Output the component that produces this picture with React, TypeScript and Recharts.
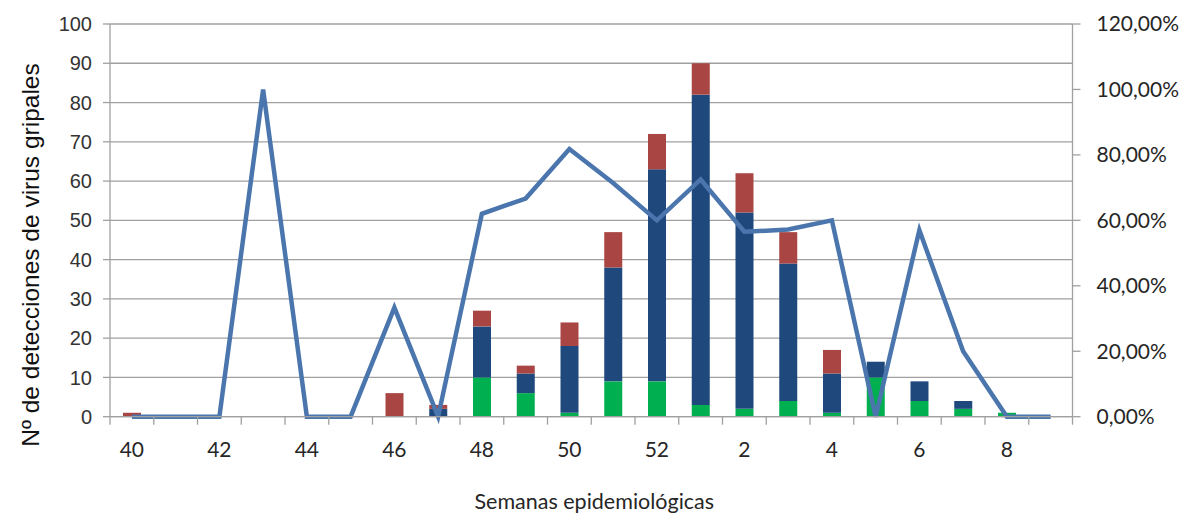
import React from "react";
import { ComposedChart, Bar, Line, XAxis, YAxis, CartesianGrid } from "recharts";

// Semanas epidemiológicas (temporada 40 -> 9)
const semanas = ["40", "41", "42", "43", "44", "45", "46", "47", "48", "49", "50", "51", "52", "1", "2", "3", "4", "5", "6", "7", "8", "9"];

// Detecciones por grupo (apiladas: verde abajo, azul en medio, rojo arriba)
const verde = [0, 0, 0, 0, 0, 0, 0, 0, 10, 6, 1, 9, 9, 3, 2, 4, 1, 10, 4, 2, 1, 0];
const azul = [0, 0, 0, 0, 0, 0, 0, 2, 13, 5, 17, 29, 54, 79, 50, 35, 10, 4, 5, 2, 0, 0];
const rojo = [1, 0, 0, 0, 0, 0, 6, 1, 4, 2, 6, 9, 9, 8, 10, 8, 6, 0, 0, 0, 0, 0];

// Porcentaje de positividad (eje derecho)
const porcentaje = [0, 0, 0, 1.0, 0, 0, 0.3333, 0, 0.62, 0.6667, 0.818, 0.714, 0.6, 0.725, 0.565, 0.572, 0.6, 0, 0.57, 0.2, 0, 0];

const ticksIzq = [0, 10, 20, 30, 40, 50, 60, 70, 80, 90, 100];
const ticksDer = [0, 0.2, 0.4, 0.6, 0.8, 1.0, 1.2];

const data = semanas.map((semana, i) => ({
  semana,
  verde: verde[i],
  azul: azul[i],
  rojo: rojo[i],
  porcentaje: porcentaje[i],
}));

const GRIS = "#A0A0A0";
const ANCHO_BANDA = (1072.5 - 110) / semanas.length;

const SemanaTick = (props: any) => {
  const { x, y, index, payload } = props;
  const ultimo = index === semanas.length - 1;
  return (
    <g>
      <line x1={x - ANCHO_BANDA / 2} x2={x - ANCHO_BANDA / 2} y1={y} y2={y + 8} stroke={GRIS} strokeWidth={1.3} />
      {ultimo && <line x1={x + ANCHO_BANDA / 2} x2={x + ANCHO_BANDA / 2} y1={y} y2={y + 8} stroke={GRIS} strokeWidth={1.3} />}
      {index % 2 === 0 && (
        <text x={x} y={y + 32} textAnchor="middle" dominantBaseline="central" fontFamily="Lato, 'Open Sans', sans-serif" fontSize={21} fill="#262626">
          {payload.value}
        </text>
      )}
    </g>
  );
};

const formatoPct = (v: number) => (v * 100).toFixed(2).replace(".", ",") + "%";

export default function App() {
  return (
    <div style={{ position: "absolute", left: 0, top: 0, background: "#fff" }}>
      <ComposedChart width={1181} height={515} data={data} margin={{ top: 24, right: 0, left: 0, bottom: 0 }}>
        <CartesianGrid yAxisId="izq" horizontal={true} vertical={false} stroke={GRIS} strokeWidth={1.3} />
        <XAxis
          dataKey="semana"
          interval={0}
          height={98.3}
          tickSize={0}
          tickMargin={0}
          tick={<SemanaTick />}
          axisLine={{ stroke: GRIS, strokeWidth: 1.3 }}
          label={{
            content: (p: any) => (
              <text x={p.viewBox.x + p.viewBox.width / 2 + 3} y={509} textAnchor="middle" fontFamily="Lato, 'Open Sans', sans-serif" fontSize={21.5} fill="#262626">
                Semanas epidemiológicas
              </text>
            ),
          }}
        />
        <YAxis
          yAxisId="izq"
          orientation="left"
          width={110}
          domain={[0, 100]}
          ticks={ticksIzq}
          interval={0}
          tickSize={7}
          tickMargin={11}
          axisLine={{ stroke: GRIS, strokeWidth: 1.3 }}
          tickLine={{ stroke: GRIS, strokeWidth: 1.3 }}
          tick={{ fontFamily: "'Liberation Sans', Arial, sans-serif", fontSize: 20, fill: "#333" }}
          label={{
            content: () => (
              <text x={30} y={255} transform="rotate(-90 30 255)" textAnchor="middle" dominantBaseline="central" fontFamily="'Liberation Sans', Arial, sans-serif" fontSize={24.5} fill="#111">
                Nº de detecciones de virus gripales
              </text>
            ),
          }}
        />
        <YAxis
          yAxisId="der"
          orientation="right"
          width={108.5}
          domain={[0, 1.2]}
          ticks={ticksDer}
          interval={0}
          tickSize={8}
          tickMargin={16}
          tickFormatter={formatoPct}
          axisLine={{ stroke: GRIS, strokeWidth: 1.3 }}
          tickLine={{ stroke: GRIS, strokeWidth: 1.3 }}
          tick={{ fontFamily: "Lato, 'Open Sans', sans-serif", fontSize: 21, fill: "#262626" }}
        />
        <Bar yAxisId="izq" dataKey="verde" stackId="a" fill="#00B050" barSize={18} isAnimationActive={false} />
        <Bar yAxisId="izq" dataKey="azul" stackId="a" fill="#1F497D" barSize={18} isAnimationActive={false} />
        <Bar yAxisId="izq" dataKey="rojo" stackId="a" fill="#A94542" barSize={18} isAnimationActive={false} />
        <Line
          yAxisId="der"
          type="linear"
          dataKey="porcentaje"
          stroke="#4A76AD"
          strokeWidth={4.5}
          dot={false}
          activeDot={false}
          isAnimationActive={false}
        />
      </ComposedChart>
    </div>
  );
}
